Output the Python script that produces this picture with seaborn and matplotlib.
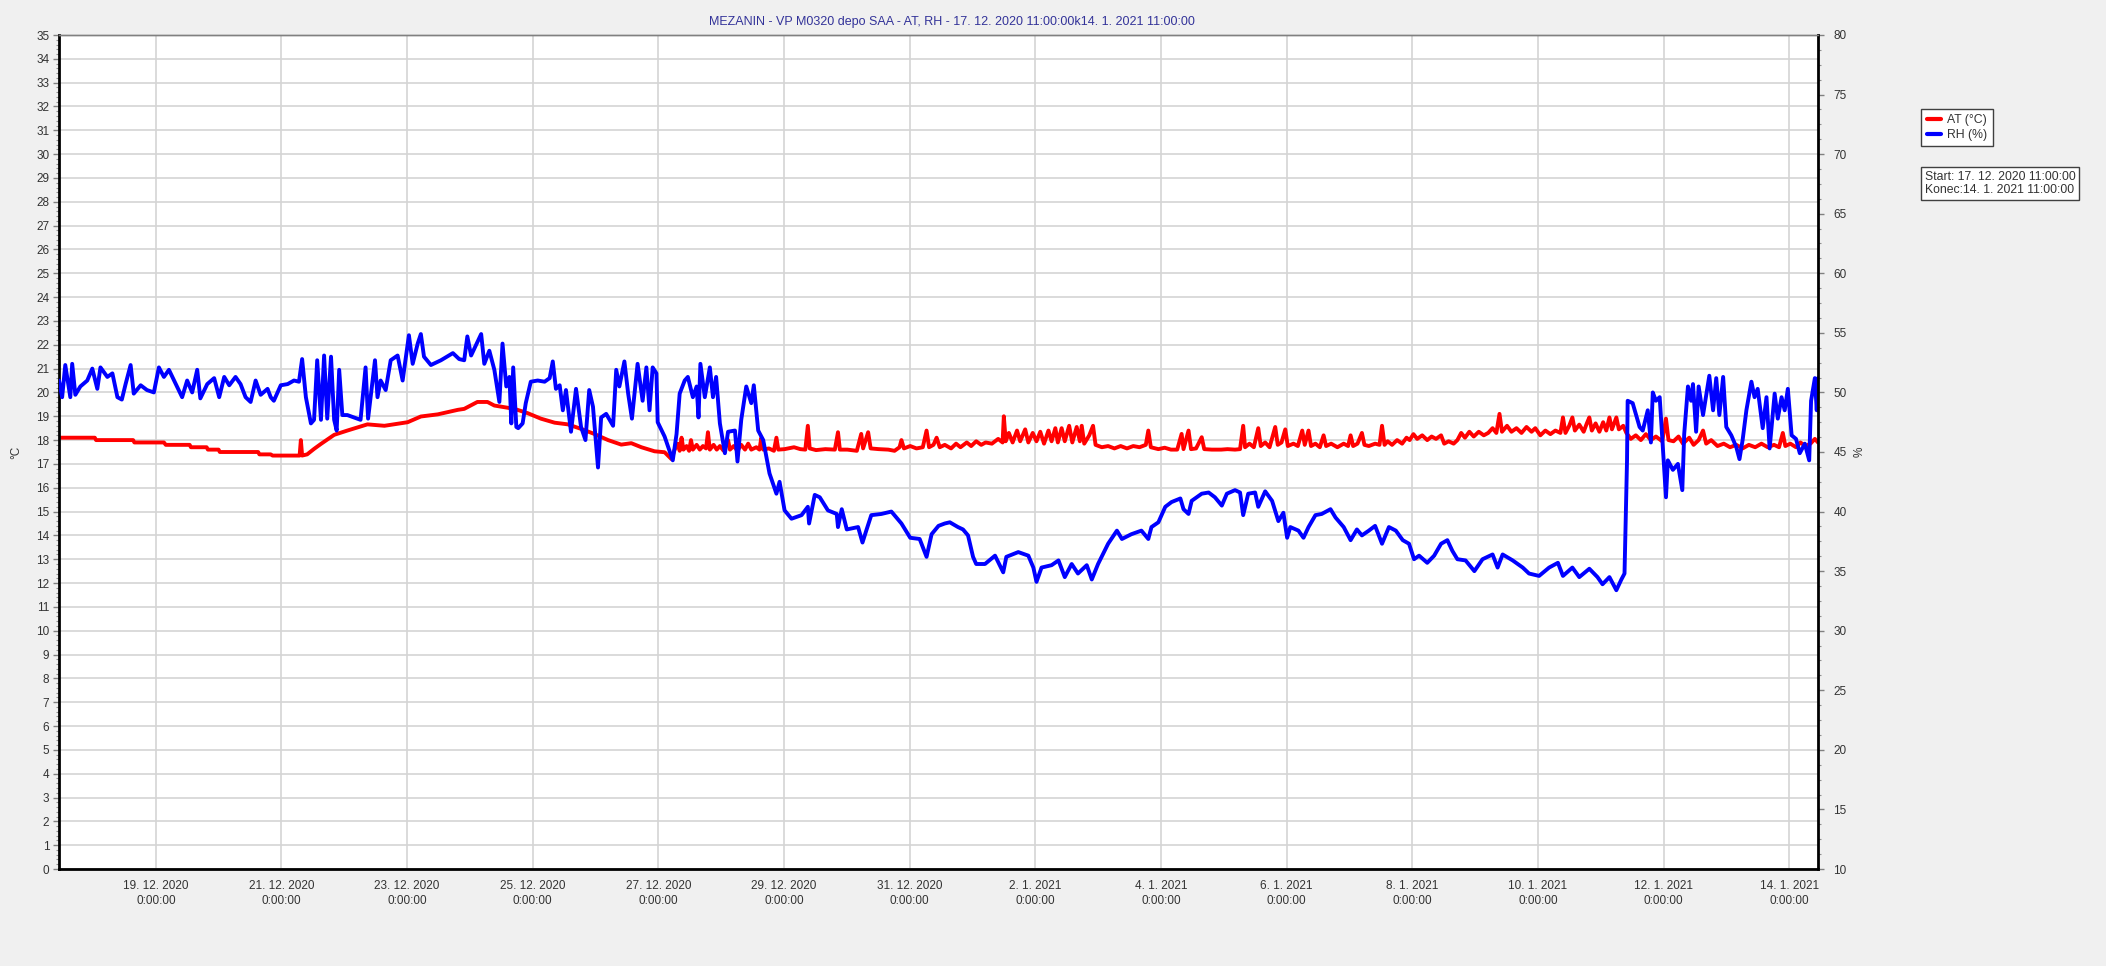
import pandas as pd
import numpy as np

import matplotlib.pyplot as plt
import seaborn as sns
from matplotlib.lines import Line2D
from matplotlib.ticker import MultipleLocator

# values; time given in days after the start of the record
start = pd.Timestamp("2020-12-17 11:00")
end = pd.Timestamp("2021-01-14 11:00")
title = "MEZANIN - VP M0320 depo SAA - AT, RH - 17. 12. 2020 11:00:00k14. 1. 2021 11:00:00"
info_text = "Start: 17. 12. 2020 11:00:00\nKonec:14. 1. 2021 11:00:00"
series_labels = ["AT (°C)", "RH (%)"]

at_days = [
    0.00, 0.57, 0.59, 1.18, 1.20, 1.67, 1.70, 2.08, 2.10, 2.35,
    2.37, 2.54, 2.56, 3.17, 3.19, 3.37, 3.40, 3.83, 3.85, 3.87,
    3.95, 4.06, 4.17, 4.38, 4.59, 4.91, 5.18, 5.55, 5.76, 6.03,
    6.35, 6.45, 6.66, 6.82, 6.93, 7.25, 7.46, 7.67, 7.89, 8.10,
    8.31, 8.52, 8.74, 8.95, 9.11, 9.27, 9.48, 9.64, 9.75, 9.80,
    9.85, 9.88, 9.91, 9.94, 9.99, 10.03, 10.06, 10.09, 10.15, 10.20,
    10.25, 10.30, 10.33, 10.36, 10.42, 10.47, 10.52, 10.58, 10.65, 10.68,
    10.74, 10.80, 10.86, 10.92, 10.97, 11.02, 11.10, 11.15, 11.18, 11.21,
    11.30, 11.38, 11.42, 11.45, 11.55, 11.70, 11.80, 11.88, 11.92, 11.95,
    12.05, 12.20, 12.35, 12.40, 12.43, 12.55, 12.70, 12.77, 12.80, 12.88,
    12.92, 13.05, 13.20, 13.30, 13.38, 13.41, 13.45, 13.55, 13.65, 13.75,
    13.81, 13.85, 13.92, 13.97, 14.02, 14.10, 14.20, 14.28, 14.35, 14.45,
    14.52, 14.60, 14.68, 14.75, 14.85, 14.95, 15.02, 15.04, 15.07, 15.12,
    15.18, 15.25, 15.30, 15.38, 15.43, 15.50, 15.56, 15.62, 15.68, 15.75,
    15.80, 15.86, 15.90, 15.96, 16.01, 16.08, 16.13, 16.20, 16.25, 16.28,
    16.32, 16.40, 16.46, 16.50, 16.60, 16.70, 16.80, 16.90, 17.00, 17.10,
    17.20, 17.30, 17.34, 17.38, 17.50, 17.60, 17.70, 17.80, 17.87, 17.90,
    17.98, 18.02, 18.10, 18.19, 18.23, 18.35, 18.50, 18.60, 18.72, 18.80,
    18.85, 18.88, 18.95, 19.02, 19.09, 19.13, 19.20, 19.27, 19.36, 19.40,
    19.46, 19.52, 19.56, 19.65, 19.72, 19.79, 19.83, 19.89, 19.93, 20.00,
    20.07, 20.13, 20.17, 20.25, 20.35, 20.45, 20.52, 20.56, 20.60, 20.67,
    20.74, 20.78, 20.85, 20.95, 21.02, 21.06, 21.10, 21.15, 21.22, 21.30,
    21.38, 21.45, 21.50, 21.56, 21.62, 21.70, 21.78, 21.85, 21.92, 22.00,
    22.05, 22.12, 22.20, 22.26, 22.32, 22.38, 22.45, 22.52, 22.60, 22.68,
    22.75, 22.82, 22.88, 22.93, 22.97, 23.05, 23.12, 23.20, 23.28, 23.36,
    23.44, 23.50, 23.58, 23.66, 23.74, 23.82, 23.90, 23.94, 23.98, 24.04,
    24.09, 24.13, 24.20, 24.27, 24.32, 24.36, 24.40, 24.46, 24.52, 24.58,
    24.63, 24.68, 24.72, 24.79, 24.83, 24.90, 24.95, 25.02, 25.10, 25.18,
    25.26, 25.34, 25.42, 25.52, 25.58, 25.62, 25.70, 25.78, 25.85, 25.95,
    26.02, 26.10, 26.17, 26.22, 26.30, 26.40, 26.50, 26.60, 26.70, 26.80,
    26.90, 27.00, 27.10, 27.20, 27.30, 27.38, 27.44, 27.48, 27.56, 27.65,
    27.72, 27.80, 27.88, 27.95, 28.00,
]
at_vals = [
    18.1, 18.1, 18.0, 18.0, 17.9, 17.9, 17.8, 17.8, 17.7, 17.7,
    17.6, 17.6, 17.5, 17.5, 17.4, 17.4, 17.35, 17.35, 18.0, 17.35,
    17.4, 17.63, 17.84, 18.22, 18.4, 18.66, 18.6, 18.75, 18.99, 19.08,
    19.27, 19.31, 19.6, 19.6, 19.45, 19.31, 19.13, 18.9, 18.73, 18.66,
    18.47, 18.26, 18.0, 17.81, 17.87, 17.7, 17.53, 17.49, 17.2, 17.6,
    17.85, 17.55, 18.1, 17.6, 17.75, 17.55, 18.0, 17.6, 17.8, 17.6,
    17.75, 17.65, 18.33, 17.6, 17.8, 17.6, 17.75, 17.55, 18.0, 17.6,
    17.75, 17.55, 17.8, 17.6, 17.85, 17.6, 17.7, 17.6, 18.1, 17.6,
    17.65, 17.55, 18.1, 17.6, 17.62, 17.7, 17.62, 17.6, 18.6, 17.65,
    17.58, 17.62, 17.6, 18.33, 17.6, 17.6, 17.55, 18.26, 17.65, 18.33,
    17.65, 17.62, 17.6, 17.55, 17.7, 18.0, 17.65, 17.75, 17.65, 17.7,
    18.4, 17.7, 17.8, 18.1, 17.7, 17.8, 17.65, 17.85, 17.7, 17.9,
    17.75, 17.95, 17.8, 17.9, 17.85, 18.05, 17.9, 19.0, 17.95, 18.3,
    17.9, 18.4, 17.95, 18.45, 17.9, 18.3, 17.95, 18.35, 17.85, 18.4,
    17.95, 18.5, 17.9, 18.5, 17.95, 18.6, 17.9, 18.55, 17.95, 18.6,
    17.85, 18.2, 18.6, 17.8, 17.7, 17.75, 17.65, 17.75, 17.65, 17.75,
    17.7, 17.8, 18.4, 17.7, 17.62, 17.68, 17.6, 17.6, 18.26, 17.62,
    18.4, 17.62, 17.65, 18.12, 17.62, 17.6, 17.6, 17.62, 17.6, 17.62,
    18.6, 17.7, 17.85, 17.7, 18.5, 17.75, 17.9, 17.7, 18.55, 17.8,
    17.9, 18.45, 17.75, 17.85, 17.75, 18.4, 17.8, 18.4, 17.75, 17.85,
    17.7, 18.2, 17.75, 17.85, 17.7, 17.85, 17.75, 18.2, 17.75, 17.85,
    18.3, 17.8, 17.75, 17.85, 17.8, 18.6, 17.8, 17.95, 17.8, 18.0,
    17.85, 18.1, 18.0, 18.25, 18.05, 18.2, 18.0, 18.15, 18.05, 18.2,
    17.85, 17.95, 17.85, 18.0, 18.3, 18.1, 18.35, 18.15, 18.35, 18.2,
    18.3, 18.5, 18.3, 19.1, 18.35, 18.6, 18.35, 18.5, 18.3, 18.55,
    18.35, 18.5, 18.2, 18.4, 18.25, 18.4, 18.3, 18.95, 18.3, 18.6,
    18.95, 18.4, 18.65, 18.35, 18.7, 18.95, 18.4, 18.7, 18.35, 18.75,
    18.4, 18.95, 18.45, 18.95, 18.45, 18.6, 18.3, 18.05, 18.2, 18.0,
    18.25, 18.0, 18.15, 17.95, 18.9, 18.0, 17.95, 18.15, 17.85, 18.1,
    17.8, 18.0, 18.4, 17.85, 18.0, 17.75, 17.85, 17.7, 17.8, 17.65,
    17.8, 17.7, 17.85, 17.7, 17.8, 17.7, 18.3, 17.75, 17.85, 17.7,
    17.9, 17.75, 17.85, 18.05, 17.9,
]

rh_days = [
    0.00, 0.05, 0.10, 0.18, 0.21, 0.26, 0.34, 0.45, 0.53, 0.61,
    0.66, 0.77, 0.85, 0.93, 1.00, 1.06, 1.14, 1.19, 1.30, 1.40,
    1.51, 1.59, 1.67, 1.75, 1.86, 1.96, 2.04, 2.12, 2.20, 2.25,
    2.36, 2.47, 2.55, 2.63, 2.71, 2.81, 2.89, 2.97, 3.05, 3.13,
    3.21, 3.32, 3.37, 3.42, 3.53, 3.64, 3.74, 3.82, 3.87, 3.93,
    4.01, 4.06, 4.11, 4.17, 4.22, 4.27, 4.33, 4.38, 4.42, 4.46,
    4.51, 4.59, 4.80, 4.88, 4.92, 5.03, 5.07, 5.12, 5.20, 5.28,
    5.39, 5.47, 5.57, 5.63, 5.71, 5.76, 5.81, 5.92, 6.08, 6.27,
    6.37, 6.45, 6.50, 6.56, 6.72, 6.77, 6.85, 6.93, 7.01, 7.06,
    7.12, 7.17, 7.20, 7.23, 7.28, 7.31, 7.38, 7.43, 7.51, 7.62,
    7.73, 7.81, 7.86, 7.91, 7.97, 8.02, 8.07, 8.15, 8.23, 8.31,
    8.38, 8.44, 8.50, 8.58, 8.63, 8.71, 8.82, 8.87, 8.92, 9.00,
    9.06, 9.12, 9.21, 9.29, 9.35, 9.40, 9.45, 9.51, 9.53, 9.64,
    9.77, 9.83, 9.88, 9.96, 10.01, 10.09, 10.15, 10.18, 10.21, 10.28,
    10.36, 10.41, 10.46, 10.52, 10.60, 10.65, 10.76, 10.80, 10.86, 10.94,
    11.02, 11.06, 11.13, 11.21, 11.31, 11.42, 11.47, 11.55, 11.66, 11.82,
    11.92, 11.94, 12.03, 12.11, 12.24, 12.38, 12.40, 12.46, 12.54, 12.72,
    12.79, 12.85, 12.93, 13.09, 13.25, 13.41, 13.55, 13.70, 13.81, 13.89,
    14.00, 14.10, 14.18, 14.31, 14.39, 14.47, 14.55, 14.60, 14.74, 14.90,
    15.03, 15.08, 15.27, 15.43, 15.51, 15.56, 15.64, 15.80, 15.91, 16.01,
    16.12, 16.22, 16.36, 16.44, 16.54, 16.70, 16.84, 16.92, 17.07, 17.23,
    17.34, 17.39, 17.50, 17.61, 17.71, 17.85, 17.90, 17.98, 18.03, 18.19,
    18.30, 18.40, 18.51, 18.59, 18.72, 18.80, 18.85, 18.93, 19.04, 19.09,
    19.20, 19.31, 19.41, 19.49, 19.55, 19.60, 19.73, 19.81, 19.89, 20.00,
    20.10, 20.24, 20.32, 20.45, 20.56, 20.66, 20.74, 20.85, 20.95, 21.06,
    21.17, 21.28, 21.39, 21.49, 21.57, 21.65, 21.78, 21.89, 22.00, 22.10,
    22.18, 22.26, 22.39, 22.53, 22.66, 22.82, 22.90, 22.98, 23.14, 23.30,
    23.40, 23.56, 23.72, 23.86, 23.94, 24.09, 24.20, 24.36, 24.49, 24.57,
    24.68, 24.79, 24.87, 24.92, 24.96, 24.97, 25.05, 25.10, 25.16, 25.21,
    25.29, 25.34, 25.37, 25.42, 25.48, 25.53, 25.58, 25.61, 25.69, 25.77,
    25.84, 25.87, 25.93, 25.98, 26.01, 26.06, 26.10, 26.17, 26.27, 26.33,
    26.38, 26.43, 26.49, 26.54, 26.62, 26.70, 26.75, 26.80, 26.86, 26.94,
    26.99, 27.04, 27.12, 27.18, 27.23, 27.31, 27.36, 27.42, 27.47, 27.52,
    27.58, 27.65, 27.71, 27.79, 27.86, 27.89, 27.95, 27.98, 28.00,
]
rh_vals = [
    51.0, 49.6, 52.3, 49.6, 52.4, 49.8, 50.5, 51.0, 52.0, 50.3,
    52.1, 51.3, 51.6, 49.6, 49.4, 50.7, 52.3, 49.9, 50.6, 50.2,
    50.0, 52.1, 51.3, 51.9, 50.7, 49.6, 51.0, 50.0, 51.9, 49.5,
    50.7, 51.2, 49.6, 51.3, 50.6, 51.3, 50.7, 49.6, 49.2, 51.0,
    49.8, 50.3, 49.6, 49.3, 50.6, 50.7, 51.0, 50.9, 52.8, 49.6,
    47.4, 47.7, 52.7, 47.7, 53.1, 47.8, 53.0, 47.7, 46.8, 51.9,
    48.1, 48.1, 47.7, 52.1, 47.8, 52.7, 49.6, 51.0, 50.2, 52.7,
    53.1, 51.0, 54.8, 52.4, 54.1, 54.9, 53.0, 52.3, 52.7, 53.3,
    52.8, 52.7, 54.7, 53.1, 54.9, 52.4, 53.5, 51.9, 49.2, 54.1,
    50.5, 51.3, 47.4, 52.1, 47.1, 47.0, 47.4, 49.1, 50.9, 51.0,
    50.9, 51.2, 52.6, 50.3, 50.6, 48.5, 50.2, 46.7, 50.3, 47.1,
    46.0, 50.2, 48.8, 43.7, 47.9, 48.2, 47.2, 51.9, 50.5, 52.6,
    49.9, 47.8, 52.4, 49.3, 52.1, 48.5, 52.1, 51.6, 47.5, 46.3,
    44.3, 46.5, 49.9, 51.0, 51.3, 49.6, 50.5, 47.9, 52.4, 49.6,
    52.1, 49.6, 51.3, 47.4, 44.9, 46.7, 46.8, 44.2, 47.7, 50.5,
    49.1, 50.6, 46.8, 46.0, 43.2, 41.5, 42.5, 40.1, 39.4, 39.7,
    40.4, 39.0, 41.4, 41.2, 40.1, 39.8, 38.7, 40.2, 38.5, 38.7,
    37.4, 38.4, 39.7, 39.8, 40.0, 39.0, 37.8, 37.7, 36.2, 38.1,
    38.8, 39.0, 39.1, 38.7, 38.5, 38.0, 36.2, 35.6, 35.6, 36.3,
    34.9, 36.2, 36.6, 36.3, 35.3, 34.1, 35.3, 35.5, 35.9, 34.5,
    35.6, 34.8, 35.5, 34.3, 35.6, 37.3, 38.4, 37.7, 38.1, 38.4,
    37.7, 38.7, 39.1, 40.4, 40.8, 41.1, 40.2, 39.8, 40.9, 41.5,
    41.6, 41.2, 40.5, 41.5, 41.8, 41.6, 39.7, 41.5, 41.6, 40.4,
    41.7, 40.9, 39.2, 39.9, 37.8, 38.7, 38.4, 37.8, 38.7, 39.7,
    39.8, 40.2, 39.5, 38.7, 37.6, 38.5, 38.0, 38.4, 38.8, 37.3,
    38.7, 38.4, 37.6, 37.3, 36.0, 36.3, 35.7, 36.3, 37.3, 37.6,
    36.7, 36.0, 35.9, 35.0, 36.0, 36.4, 35.3, 36.4, 35.9, 35.3,
    34.8, 34.6, 35.3, 35.7, 34.6, 35.3, 34.5, 35.2, 34.5, 33.9,
    34.5, 33.4, 34.3, 34.8, 44.3, 49.3, 49.1, 48.2, 47.1, 46.8,
    48.5, 45.8, 50.0, 49.3, 49.6, 45.4, 41.2, 44.3, 43.5, 44.0,
    41.8, 46.5, 50.5, 49.3, 50.7, 46.7, 50.5, 48.1, 51.4, 48.5,
    51.2, 48.1, 51.3, 47.1, 46.4, 45.4, 44.4, 46.0, 48.5, 50.9,
    49.6, 50.3, 47.0, 49.6, 45.3, 49.9, 47.8, 49.6, 48.5, 50.3,
    46.4, 46.1, 44.9, 45.7, 44.3, 49.3, 51.2, 48.5, 51.2,
]


def to_frame(days: list, values: list, name: str) -> pd.DataFrame:
    """Turn day offsets and readings into a frame with real timestamps."""
    return pd.DataFrame(
        {"time": start + pd.to_timedelta(days, unit="D"), name: values}
    )


sns.set_style("white")
plt.rcParams["font.family"] = ["Liberation Sans", "DejaVu Sans"]

at_df = to_frame(at_days, at_vals, "AT")
rh_df = to_frame(rh_days, rh_vals, "RH")

W, H = 2106, 966
fig = plt.figure(figsize=(W / 100, H / 100), dpi=100, facecolor="#f0f0f0")
left, right, top, bottom = 59, 1818, 35, 869
ax = fig.add_axes(
    [left / W, 1 - bottom / H, (right - left) / W, (bottom - top) / H]
)
ax.set_facecolor("white")
ax2 = ax.twinx()

sns.lineplot(data=at_df, x="time", y="AT", ax=ax, color="#ff0000",
             linewidth=2.8, estimator=None, sort=False)
sns.lineplot(data=rh_df, x="time", y="RH", ax=ax2, color="#0000ff",
             linewidth=2.8, estimator=None, sort=False)

ax.set_xlim(start, end)
ax.set_ylim(0, 35)
ax2.set_ylim(10, 80)

# ticks: every 2 days at midnight, minor every 12 hours
major = pd.date_range("2020-12-19", "2021-01-14", freq="2D")
minor = pd.date_range("2020-12-17 12:00", "2021-01-14 11:00", freq="12h")
ax.set_xticks(major)
ax.set_xticks(minor, minor=True)
ax.set_xticklabels([f"{d.day}. {d.month}. {d.year}\n0:00:00" for d in major],
                   fontsize=8.5, color="#333333", linespacing=1.3)

ax.yaxis.set_major_locator(MultipleLocator(1))
ax.yaxis.set_minor_locator(MultipleLocator(0.2))
ax2.yaxis.set_major_locator(MultipleLocator(5))
ax2.yaxis.set_minor_locator(MultipleLocator(1.25))

ax.tick_params(axis="both", which="major", direction="out", length=4,
               width=1, color="#808080", labelsize=8.5, labelcolor="#333333", pad=3)
ax.tick_params(axis="both", which="minor", direction="out", length=2.5,
               width=0.8, color="#909090")
ax.tick_params(axis="x", which="major", pad=4)
ax2.tick_params(axis="y", which="major", direction="out", length=4, width=1,
                color="#808080", labelsize=8.5, labelcolor="#333333", pad=7)
ax2.tick_params(axis="y", which="minor", direction="out", length=2.5,
                width=0.8, color="#909090")

ax.grid(True, which="major", color="#d4d4d4", linewidth=1.2)
ax.set_axisbelow(True)

for s in ["left", "bottom"]:
    ax.spines[s].set_color("black")
    ax.spines[s].set_linewidth(2)
ax.spines["top"].set_color("#808080")
ax.spines["top"].set_linewidth(1)
ax.spines["right"].set_visible(False)
ax2.spines["right"].set_color("black")
ax2.spines["right"].set_linewidth(2)
ax2.spines["top"].set_color("#808080")
ax2.spines["top"].set_linewidth(1)
ax2.spines["left"].set_visible(False)
ax2.spines["bottom"].set_visible(False)

ax.set_xlabel("")
ax.set_ylabel("°C", fontsize=8.5, color="#333333")
ax.yaxis.set_label_coords(-0.021, 0.5)
ax2.set_ylabel("%", fontsize=8.5, color="#333333")
ax2.yaxis.set_label_coords(1.0205, 0.5)

fig.text(952 / W, 1 - 22 / H, title, ha="center", va="center",
         fontsize=9, color="#333399")

handles = [
    Line2D([], [], color="#ff0000", lw=3, label=series_labels[0]),
    Line2D([], [], color="#0000ff", lw=3, label=series_labels[1]),
]
leg = fig.legend(handles=handles, loc="upper left",
                 bbox_to_anchor=(1921 / W, 1 - 109 / H), fontsize=8.8,
                 frameon=True, fancybox=False, framealpha=1,
                 edgecolor="#404040", handlelength=1.2, handletextpad=0.5,
                 labelspacing=0.2, borderpad=0.45, borderaxespad=0)
leg.get_frame().set_linewidth(1)
for t in leg.get_texts():
    t.set_color("#333333")

fig.text(1925 / W, 1 - 171 / H, info_text, ha="left", va="top", fontsize=8.8,
         color="#333333", linespacing=1.15,
         bbox=dict(boxstyle="square,pad=0.3", fc="white", ec="#404040", lw=1))

fig.savefig("out.png", dpi=100, facecolor=fig.get_facecolor())
